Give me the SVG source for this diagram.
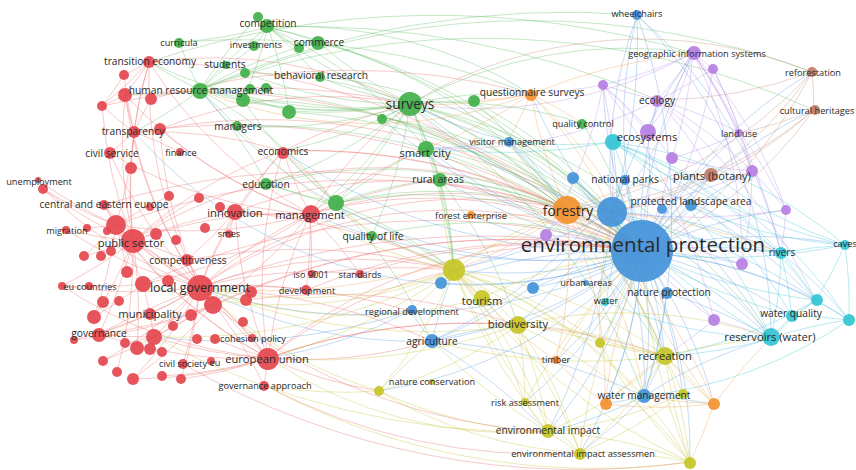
<svg xmlns="http://www.w3.org/2000/svg" width="856" height="470" viewBox="0 0 856 470">
<style>
.e{fill:none;stroke-width:1;stroke-opacity:.36}
.er{stroke:#ec6a6a}.eg{stroke:#5dbd62}.eb{stroke:#5b9ee0}.ey{stroke:#c4c43a}.ep{stroke:#b88ce8}.ec{stroke:#40c6d6}.eo{stroke:#f0a050}.ebr{stroke:#c08a78}
.R{fill:#e5474e}.G{fill:#41b04a}.B{fill:#4392d9}.Y{fill:#c5c626}.P{fill:#b57fe3}.C{fill:#33c4d4}.O{fill:#f3912f}.Br{fill:#c07b66}
circle{fill-opacity:.92}
text{font-family:"Open Sans","Liberation Sans",sans-serif;fill:#2a2a2a;text-anchor:middle;dominant-baseline:central}
.a{font-size:9.2px}.b{font-size:10.2px}.c{font-size:11.2px}.d{font-size:12.4px}.h{font-size:13.8px}.f{font-size:20.5px}
</style>
<rect width="856" height="470" fill="#fff"/>
<g id="connectors" class="e">
<g class="er">
<path d="M200 287A450 450 0 0 1 149 62"/><path d="M200 287A450 450 0 0 1 133 132"/><path d="M200 287A450 450 0 0 1 110 153"/><path d="M200 287A450 450 0 0 1 104 205"/><path d="M200 287A450 450 0 0 1 116 225"/><path d="M200 287A450 450 0 0 1 133 241"/><path d="M200 287A450 450 0 0 1 66 230"/><path d="M200 287A450 450 0 0 1 62 286"/><path d="M200 287A450 450 0 0 1 99 334"/><path d="M200 287A450 450 0 0 1 154 337"/><path d="M200 287A450 450 0 0 1 183 364"/><path d="M200 287A450 450 0 0 1 268 358"/><path d="M200 287A450 450 0 0 1 264 385"/><path d="M200 287A450 450 0 0 1 310 214"/><path d="M200 287A450 450 0 0 1 235 212"/><path d="M200 287A450 450 0 0 1 283 151"/><path d="M200 287A450 450 0 0 1 306 290"/><path d="M200 287A450 450 0 0 1 360 274"/><path d="M200 287A450 450 0 0 1 43 189"/><path d="M200 287A450 450 0 0 1 74 340"/><path d="M200 287A450 450 0 0 1 133 379"/><path d="M200 287A450 450 0 0 1 103 361"/><path d="M200 287A450 450 0 0 1 181 379"/><path d="M200 287A450 450 0 0 1 160 129"/><path d="M200 287A450 450 0 0 1 125 95"/>
<path d="M133 241A450 450 0 0 1 149 62"/><path d="M133 241A450 450 0 0 1 125 95"/><path d="M133 241A450 450 0 0 1 102 106"/><path d="M133 241A450 450 0 0 1 131 168"/><path d="M133 241A450 450 0 0 1 43 189"/><path d="M133 241A450 450 0 0 1 66 230"/><path d="M133 241A450 450 0 0 1 84 256"/><path d="M133 241A450 450 0 0 1 62 286"/><path d="M133 241A450 450 0 0 1 94 317"/><path d="M133 241A450 450 0 0 1 99 334"/><path d="M133 241A450 450 0 0 1 137 348"/><path d="M133 241A450 450 0 0 1 117 372"/><path d="M133 241A450 450 0 0 1 268 358"/><path d="M133 241A450 450 0 0 1 235 212"/><path d="M133 241A450 450 0 0 1 310 214"/><path d="M133 241A450 450 0 0 1 187 260"/><path d="M133 241A450 450 0 0 1 283 151"/><path d="M133 241A450 450 0 0 1 199 198"/>
<path d="M268 358A450 450 0 0 1 99 334"/><path d="M268 358A450 450 0 0 1 154 337"/><path d="M268 358A450 450 0 0 1 133 379"/><path d="M268 358A450 450 0 0 1 162 376"/><path d="M268 358A450 450 0 0 1 181 379"/><path d="M268 358A450 450 0 0 1 116 225"/><path d="M268 358A450 450 0 0 1 187 260"/><path d="M268 358A450 450 0 0 1 235 212"/><path d="M268 358A450 450 0 0 1 310 214"/><path d="M268 358A450 450 0 0 1 283 151"/><path d="M268 358A450 450 0 0 1 264 385"/><path d="M268 358A450 450 0 0 1 215 339"/><path d="M268 358A450 450 0 0 1 62 286"/><path d="M268 358A450 450 0 0 1 104 205"/>
<path d="M310 214A450 450 0 0 1 283 151"/><path d="M310 214A450 450 0 0 1 235 212"/><path d="M310 214A450 450 0 0 1 160 129"/><path d="M310 214A450 450 0 0 1 149 62"/><path d="M310 214A450 450 0 0 1 125 95"/><path d="M310 214A450 450 0 0 1 116 225"/><path d="M310 214A450 450 0 0 1 143 284"/><path d="M310 214A450 450 0 0 1 311 274"/><path d="M310 214A450 450 0 0 1 306 290"/><path d="M310 214A450 450 0 0 1 360 274"/><path d="M310 214A450 450 0 0 1 154 337"/><path d="M310 214A450 450 0 0 1 110 153"/>
<path d="M134 132A450 450 0 0 1 149 62"/><path d="M134 132A450 450 0 0 1 124 75"/><path d="M134 132A450 450 0 0 1 125 95"/><path d="M134 132A450 450 0 0 1 151 99"/><path d="M134 132A450 450 0 0 1 102 106"/><path d="M134 132A450 450 0 0 1 110 153"/><path d="M134 132A450 450 0 0 1 180 152"/><path d="M134 132A450 450 0 0 1 131 168"/><path d="M134 132A450 450 0 0 1 283 151"/><path d="M134 132A450 450 0 0 1 116 225"/>
<path d="M116 225A450 450 0 0 1 43 189"/><path d="M116 225A450 450 0 0 1 104 205"/><path d="M116 225A450 450 0 0 1 169 196"/><path d="M116 225A450 450 0 0 1 84 256"/><path d="M116 225A450 450 0 0 1 94 317"/><path d="M116 225A450 450 0 0 1 127 272"/><path d="M116 225A450 450 0 0 1 143 284"/><path d="M116 225A450 450 0 0 1 38 180"/><path d="M116 225A450 450 0 0 1 87 228"/>
<path d="M149 62A450 450 0 0 1 124 75"/><path d="M149 62A450 450 0 0 1 125 95"/><path d="M149 62A450 450 0 0 1 102 106"/><path d="M124 75A450 450 0 0 1 102 106"/><path d="M125 95A450 450 0 0 1 102 106"/><path d="M143 284A450 450 0 0 1 62 286"/><path d="M143 284A450 450 0 0 1 94 317"/><path d="M143 284A450 450 0 0 1 154 337"/><path d="M154 337A450 450 0 0 1 99 334"/><path d="M154 337A450 450 0 0 1 125 343"/><path d="M154 337A450 450 0 0 1 103 361"/><path d="M213 305A450 450 0 0 1 99 334"/><path d="M213 305A450 450 0 0 1 133 379"/><path d="M213 305A450 450 0 0 1 74 340"/><path d="M235 212A450 450 0 0 1 283 151"/><path d="M235 212A450 450 0 0 1 220 207"/><path d="M235 212A450 450 0 0 1 229 233"/><path d="M235 212A450 450 0 0 1 187 260"/>
<path d="M200 287A450 450 0 0 1 642 252"/><path d="M200 287A450 450 0 0 1 454 270"/><path d="M200 287A450 450 0 0 1 567 210"/><path d="M133 241A450 450 0 0 1 642 252"/><path d="M268 358A450 450 0 0 1 642 252"/><path d="M268 358A450 450 0 0 1 454 270"/><path d="M432 341A450 450 0 0 1 268 358"/><path d="M310 214A450 450 0 0 1 642 252"/><path d="M310 214A450 450 0 0 1 567 210"/><path d="M310 214A450 450 0 0 1 410 104"/><path d="M235 212A450 450 0 0 1 642 252"/><path d="M160 129A450 450 0 0 1 410 104"/><path d="M149 62A450 450 0 0 1 410 104"/><path d="M379 391A450 450 0 0 1 268 358"/><path d="M264 385A600 600 0 0 0 580 453"/><path d="M213 305A600 600 0 0 0 548 432"/><path d="M183 364A800 800 0 0 0 690 462"/>
<path d="M125 95A700 700 0 0 1 642 252"/><path d="M143 284A700 700 0 0 1 642 252"/><path d="M154 337A700 700 0 0 1 642 252"/><path d="M116 225A700 700 0 0 1 567 210"/><path d="M104 205A700 700 0 0 1 642 252"/><path d="M283 151A600 600 0 0 1 642 252"/><path d="M283 151A600 600 0 0 1 567 210"/><path d="M283 151A600 600 0 0 1 410 104"/><path d="M306 290A600 600 0 0 1 642 252"/><path d="M360 274A600 600 0 0 1 642 252"/><path d="M311 274A600 600 0 0 1 454 270"/><path d="M213 305A700 700 0 0 1 642 252"/><path d="M246 300A600 600 0 0 1 518 325"/><path d="M251 292A600 600 0 0 1 432 341"/><path d="M187 260A600 600 0 0 1 454 270"/><path d="M134 132A700 700 0 0 1 567 210"/><path d="M149 62A700 700 0 0 1 567 210"/><path d="M200 287A600 600 0 0 1 410 311"/><path d="M268 358A600 600 0 0 1 518 325"/><path d="M268 358A600 600 0 0 1 665 356"/><path d="M99 334A800 800 0 0 1 642 252"/><path d="M235 212A600 600 0 0 1 454 270"/><path d="M310 214A600 600 0 0 1 440 179"/><path d="M310 214A600 600 0 0 1 426 148"/><path d="M283 151A500 500 0 0 1 336 203"/><path d="M160 129A600 600 0 0 1 642 252"/><path d="M151 99A700 700 0 0 1 531 94"/><path d="M102 106A700 700 0 0 1 410 104"/>
</g>
<g class="eg">
<path d="M410 104A450 450 0 0 1 268 27"/><path d="M410 104A450 450 0 0 1 318 42"/><path d="M410 104A450 450 0 0 1 319 77"/><path d="M410 104A450 450 0 0 1 245 73"/><path d="M410 104A450 450 0 0 1 200 90"/><path d="M410 104A450 450 0 0 1 243 100"/><path d="M410 104A450 450 0 0 1 289 111"/><path d="M410 104A450 450 0 0 1 236 126"/><path d="M410 104A450 450 0 0 1 382 118"/><path d="M410 104A450 450 0 0 1 473 101"/><path d="M410 104A450 450 0 0 1 426 148"/><path d="M410 104A450 450 0 0 1 440 179"/><path d="M410 104A450 450 0 0 1 372 236"/><path d="M410 104A450 450 0 0 1 336 203"/><path d="M410 104A450 450 0 0 1 267 184"/><path d="M410 104A450 450 0 0 1 531 94"/><path d="M410 104A450 450 0 0 1 567 210"/><path d="M410 104A450 450 0 0 1 642 252"/><path d="M410 104A450 450 0 0 1 454 270"/><path d="M410 104A450 450 0 0 1 665 356"/><path d="M410 104A450 450 0 0 1 582 123"/><path d="M410 104A450 450 0 0 1 283 151"/><path d="M410 104A450 450 0 0 1 310 214"/><path d="M410 104A450 450 0 0 1 149 62"/><path d="M410 104A450 450 0 0 1 693 53"/><path d="M410 104A450 450 0 0 1 612 212"/>
<path d="M200 90A450 450 0 0 1 179 42"/><path d="M200 90A450 450 0 0 1 258 17"/><path d="M200 90A450 450 0 0 1 268 27"/><path d="M200 90A450 450 0 0 1 254 47"/><path d="M200 90A450 450 0 0 1 245 73"/><path d="M200 90A450 450 0 0 1 250 89"/><path d="M200 90A450 450 0 0 1 243 100"/><path d="M200 90A450 450 0 0 1 236 126"/><path d="M200 90A450 450 0 0 1 289 111"/><path d="M200 90A450 450 0 0 1 134 132"/><path d="M200 90A450 450 0 0 1 149 62"/><path d="M200 90A450 450 0 0 1 318 42"/><path d="M200 90A450 450 0 0 1 336 203"/><path d="M200 90A450 450 0 0 1 267 184"/><path d="M200 90A450 450 0 0 1 125 95"/>
<path d="M336 203A450 450 0 0 1 426 148"/><path d="M336 203A450 450 0 0 1 440 179"/><path d="M336 203A450 450 0 0 1 372 236"/><path d="M336 203A450 450 0 0 1 267 184"/><path d="M336 203A450 450 0 0 1 642 252"/><path d="M336 203A450 450 0 0 1 283 151"/><path d="M336 203A450 450 0 0 1 243 100"/><path d="M336 203A450 450 0 0 1 567 210"/><path d="M336 203A450 450 0 0 1 454 270"/>
<path d="M268 27A450 450 0 0 1 318 42"/><path d="M268 27A450 450 0 0 1 298 48"/><path d="M268 27A450 450 0 0 1 254 47"/><path d="M268 27A450 450 0 0 1 319 77"/><path d="M268 27A450 450 0 0 1 179 42"/><path d="M268 27A450 450 0 0 1 426 148"/><path d="M268 27A450 450 0 0 1 289 111"/><path d="M268 27A450 450 0 0 1 243 100"/>
<path d="M426 148A450 450 0 0 1 642 252"/><path d="M426 148A450 450 0 0 1 440 179"/><path d="M440 179A450 450 0 0 1 642 252"/><path d="M440 179A450 450 0 0 1 567 210"/><path d="M440 179A450 450 0 0 1 454 270"/><path d="M473 101A450 450 0 0 1 642 252"/><path d="M382 118A450 450 0 0 1 642 252"/><path d="M319 77A450 450 0 0 1 642 252"/><path d="M318 42A450 450 0 0 1 567 210"/><path d="M267 184A450 450 0 0 1 642 252"/><path d="M582 123A450 450 0 0 1 642 252"/><path d="M372 236A450 450 0 0 1 642 252"/><path d="M245 73A450 450 0 0 1 410 104"/><path d="M268 27A450 450 0 0 1 531 94"/><path d="M149 62A900 900 0 0 1 693 53"/><path d="M200 90A900 900 0 0 1 637 15"/><path d="M268 27A900 900 0 0 1 658 100"/>
<path d="M243 100A600 600 0 0 1 642 252"/><path d="M289 112A600 600 0 0 1 642 252"/><path d="M236 126A600 600 0 0 1 567 210"/><path d="M266 184A600 600 0 0 1 454 270"/><path d="M200 90A600 600 0 0 1 567 210"/><path d="M268 27A700 700 0 0 1 642 252"/><path d="M318 42A600 600 0 0 1 642 252"/><path d="M426 148A500 500 0 0 1 454 270"/><path d="M426 148A500 500 0 0 1 665 356"/><path d="M440 179A500 500 0 0 1 518 325"/><path d="M410 104A600 600 0 0 1 771 338"/><path d="M410 104A600 600 0 0 1 644 396"/><path d="M372 236A500 500 0 0 1 454 270"/><path d="M336 203A500 500 0 0 1 432 341"/><path d="M382 119A500 500 0 0 1 567 210"/><path d="M474 101A500 500 0 0 1 567 210"/><path d="M179 42A800 800 0 0 1 531 94"/><path d="M245 73A800 800 0 0 1 812 72"/><path d="M200 90A800 800 0 0 1 814 110"/>
</g>
<g class="eb">
<path d="M642 252A450 450 0 0 1 637 15"/><path d="M642 252A450 450 0 0 1 508 141"/><path d="M642 252A450 450 0 0 1 410 311"/><path d="M642 252A450 450 0 0 1 432 341"/><path d="M642 252A450 450 0 0 1 644 396"/><path d="M642 252A450 450 0 0 1 667 293"/><path d="M642 252A450 450 0 0 1 625 180"/><path d="M642 252A450 450 0 0 1 573 178"/><path d="M642 252A450 450 0 0 1 533 288"/><path d="M642 252A450 450 0 0 1 441 283"/><path d="M642 252A450 450 0 0 1 781 253"/><path d="M642 252A450 450 0 0 1 845 245"/><path d="M642 252A450 450 0 0 1 816 300"/><path d="M642 252A450 450 0 0 1 771 338"/><path d="M642 252A450 450 0 0 1 658 100"/><path d="M642 252A450 450 0 0 1 693 53"/><path d="M642 252A450 450 0 0 1 740 133"/><path d="M642 252A450 450 0 0 1 812 72"/><path d="M642 252A450 450 0 0 1 814 110"/><path d="M642 252A450 450 0 0 1 531 94"/><path d="M642 252A450 450 0 0 1 454 270"/><path d="M642 252A450 450 0 0 1 518 325"/><path d="M642 252A450 450 0 0 1 665 356"/><path d="M642 252A450 450 0 0 1 548 432"/><path d="M642 252A450 450 0 0 1 580 453"/><path d="M642 252A450 450 0 0 1 379 391"/><path d="M642 252A450 450 0 0 1 525 402"/><path d="M642 252A450 450 0 0 1 556 361"/><path d="M642 252A450 450 0 0 1 690 462"/><path d="M642 252A450 450 0 0 1 714 404"/><path d="M642 252A450 450 0 0 1 605 404"/><path d="M642 252A450 450 0 0 1 662 209"/><path d="M642 252A450 450 0 0 1 691 206"/><path d="M642 252A450 450 0 0 1 712 174"/><path d="M642 252A450 450 0 0 1 603 85"/><path d="M642 252A450 450 0 0 1 752 171"/><path d="M642 252A450 450 0 0 1 786 210"/><path d="M642 252A450 450 0 0 1 742 264"/><path d="M642 252A450 450 0 0 1 714 320"/><path d="M642 252A450 450 0 0 1 849 320"/><path d="M642 252A450 450 0 0 1 792 316"/><path d="M642 252A450 450 0 0 1 683 394"/><path d="M642 252A450 450 0 0 1 600 343"/><path d="M642 252A450 450 0 0 1 606 302"/><path d="M642 252A450 450 0 0 1 471 215"/><path d="M642 252A450 450 0 0 1 200 90"/><path d="M642 252A450 450 0 0 1 134 132"/>
<path d="M612 212A450 450 0 0 1 637 15"/><path d="M612 212A450 450 0 0 1 508 141"/><path d="M612 212A450 450 0 0 1 573 178"/><path d="M612 212A450 450 0 0 1 625 180"/><path d="M612 212A450 450 0 0 1 410 104"/><path d="M612 212A450 450 0 0 1 432 341"/><path d="M612 212A450 450 0 0 1 644 396"/><path d="M612 212A450 450 0 0 1 781 253"/><path d="M612 212A450 450 0 0 1 771 338"/>
<path d="M432 341A450 450 0 0 1 454 270"/><path d="M432 341A450 450 0 0 1 518 325"/><path d="M432 341A450 450 0 0 1 410 311"/><path d="M432 341A450 450 0 0 1 200 287"/><path d="M410 311A450 450 0 0 1 200 287"/><path d="M410 311A450 450 0 0 1 268 358"/><path d="M644 396A450 450 0 0 1 665 356"/><path d="M644 396A450 450 0 0 1 548 432"/><path d="M644 396A450 450 0 0 1 714 404"/><path d="M644 396A450 450 0 0 1 605 404"/><path d="M644 396A450 450 0 0 1 580 453"/><path d="M644 396A450 450 0 0 1 771 338"/><path d="M508 141A450 450 0 0 1 567 210"/><path d="M508 141A450 450 0 0 1 410 104"/><path d="M508 141A450 450 0 0 1 426 148"/><path d="M637 15A450 450 0 0 1 781 253"/><path d="M637 15A450 450 0 0 1 771 338"/>
<path d="M642 252A600 600 0 0 1 283 151"/><path d="M642 252A600 600 0 0 1 310 214"/><path d="M642 252A600 600 0 0 1 426 148"/><path d="M642 252A600 600 0 0 1 440 179"/><path d="M642 252A600 600 0 0 1 382 119"/><path d="M612 212A600 600 0 0 1 454 270"/><path d="M612 212A600 600 0 0 1 518 325"/><path d="M612 212A600 600 0 0 1 548 432"/><path d="M612 212A600 600 0 0 1 665 356"/><path d="M612 212A600 600 0 0 1 816 300"/><path d="M612 212A600 600 0 0 1 693 53"/><path d="M573 178A500 500 0 0 1 642 252"/><path d="M625 180A500 500 0 0 1 781 253"/><path d="M625 180A500 500 0 0 1 432 341"/><path d="M637 15A600 600 0 0 1 644 396"/><path d="M637 15A600 600 0 0 1 612 212"/><path d="M432 341A600 600 0 0 1 644 396"/><path d="M432 341A600 600 0 0 1 548 432"/><path d="M410 311A600 600 0 0 1 154 337"/><path d="M533 288A500 500 0 0 1 642 252"/><path d="M441 283A500 500 0 0 1 642 252"/><path d="M662 209A500 500 0 0 1 771 338"/><path d="M691 206A500 500 0 0 1 816 300"/><path d="M667 293A500 500 0 0 1 771 338"/><path d="M667 293A500 500 0 0 1 644 396"/>
</g>
<g class="ey">
<path d="M454 270A450 450 0 0 1 482 298"/><path d="M454 270A450 450 0 0 1 518 325"/><path d="M454 270A450 450 0 0 1 379 391"/><path d="M454 270A450 450 0 0 1 410 311"/><path d="M454 270A450 450 0 0 1 548 432"/><path d="M454 270A450 450 0 0 1 580 453"/><path d="M454 270A450 450 0 0 1 525 402"/><path d="M454 270A450 450 0 0 1 665 356"/><path d="M454 270A450 450 0 0 1 600 343"/><path d="M454 270A450 450 0 0 1 567 210"/><path d="M454 270A450 450 0 0 1 200 287"/><path d="M454 270A450 450 0 0 1 143 284"/><path d="M454 270A450 450 0 0 1 310 214"/><path d="M454 270A450 450 0 0 1 440 179"/><path d="M454 270A450 450 0 0 1 690 462"/><path d="M454 270A450 450 0 0 1 644 396"/>
<path d="M518 325A450 450 0 0 1 665 356"/><path d="M518 325A450 450 0 0 1 548 432"/><path d="M518 325A450 450 0 0 1 580 453"/><path d="M518 325A450 450 0 0 1 525 402"/><path d="M518 325A450 450 0 0 1 600 343"/><path d="M518 325A450 450 0 0 1 690 462"/><path d="M518 325A450 450 0 0 1 379 391"/><path d="M518 325A450 450 0 0 1 771 338"/>
<path d="M665 356A450 450 0 0 1 690 462"/><path d="M665 356A450 450 0 0 1 683 394"/><path d="M665 356A450 450 0 0 1 580 453"/><path d="M665 356A450 450 0 0 1 548 432"/><path d="M665 356A450 450 0 0 1 600 343"/><path d="M665 356A450 450 0 0 1 714 404"/><path d="M665 356A450 450 0 0 1 612 212"/>
<path d="M548 432A450 450 0 0 1 580 453"/><path d="M548 432A450 450 0 0 1 690 462"/><path d="M548 432A450 450 0 0 1 379 391"/><path d="M548 432A450 450 0 0 1 525 402"/><path d="M548 432A450 450 0 0 1 268 358"/><path d="M580 453A450 450 0 0 1 690 462"/><path d="M580 453A450 450 0 0 1 379 391"/><path d="M683 394A450 450 0 0 1 580 453"/><path d="M683 394A450 450 0 0 1 548 432"/><path d="M690 462A450 450 0 0 1 600 343"/><path d="M379 391A450 450 0 0 1 264 385"/><path d="M379 391A450 450 0 0 1 200 287"/><path d="M482 298A450 450 0 0 1 642 252"/><path d="M482 298A450 450 0 0 1 200 287"/><path d="M600 343A450 450 0 0 1 612 212"/><path d="M264 385A700 700 0 0 0 690 462"/><path d="M154 337A800 800 0 0 0 548 432"/>
<path d="M454 270A600 600 0 0 1 154 337"/><path d="M454 270A600 600 0 0 1 268 358"/><path d="M454 270A600 600 0 0 1 236 126"/><path d="M518 325A600 600 0 0 1 200 287"/><path d="M518 325A600 600 0 0 1 268 358"/><path d="M665 356A600 600 0 0 1 432 341"/><path d="M665 356A600 600 0 0 1 454 270"/><path d="M665 356A600 600 0 0 1 771 338"/><path d="M548 432A600 600 0 0 1 454 270"/><path d="M548 432A600 600 0 0 1 432 341"/><path d="M580 453A600 600 0 0 1 454 270"/><path d="M580 453A600 600 0 0 1 642 252"/><path d="M690 462A600 600 0 0 1 665 356"/><path d="M690 462A600 600 0 0 1 642 252"/><path d="M690 462A600 600 0 0 1 454 270"/><path d="M379 391A600 600 0 0 1 432 341"/><path d="M525 402A600 600 0 0 1 642 252"/><path d="M600 343A500 500 0 0 1 665 356"/>
</g>
<g class="ep">
<path d="M693 53A450 450 0 0 1 658 100"/><path d="M693 53A450 450 0 0 1 713 69"/><path d="M693 53A450 450 0 0 1 603 85"/><path d="M693 53A450 450 0 0 1 740 133"/><path d="M693 53A450 450 0 0 1 648 132"/><path d="M693 53A450 450 0 0 1 672 158"/><path d="M693 53A450 450 0 0 1 752 171"/><path d="M693 53A450 450 0 0 1 786 210"/><path d="M693 53A450 450 0 0 1 742 264"/><path d="M693 53A450 450 0 0 1 612 212"/>
<path d="M713 69A450 450 0 0 1 740 133"/><path d="M713 69A450 450 0 0 1 752 171"/><path d="M713 69A450 450 0 0 1 658 100"/><path d="M713 69A450 450 0 0 1 642 252"/><path d="M658 100A450 450 0 0 1 603 85"/><path d="M658 100A450 450 0 0 1 648 132"/><path d="M658 100A450 450 0 0 1 740 133"/><path d="M658 100A450 450 0 0 1 712 174"/><path d="M658 100A450 450 0 0 1 752 171"/><path d="M603 85A450 450 0 0 1 612 212"/><path d="M603 85A450 450 0 0 1 546 235"/><path d="M603 85A450 450 0 0 1 648 132"/><path d="M603 85A450 450 0 0 1 672 158"/><path d="M603 85A450 450 0 0 1 531 94"/>
<path d="M752 171A450 450 0 0 1 786 210"/><path d="M752 171A450 450 0 0 1 742 264"/><path d="M752 171A450 450 0 0 1 672 158"/><path d="M714 320A450 450 0 0 1 642 252"/><path d="M714 320A450 450 0 0 1 771 338"/><path d="M714 320A450 450 0 0 1 665 356"/><path d="M546 235A450 450 0 0 1 642 252"/><path d="M546 235A450 450 0 0 1 567 210"/><path d="M546 235A450 450 0 0 1 454 270"/><path d="M740 133A450 450 0 0 1 672 158"/><path d="M740 133A450 450 0 0 1 786 210"/><path d="M648 132A450 450 0 0 1 642 252"/><path d="M672 158A450 450 0 0 1 642 252"/><path d="M786 210A450 450 0 0 1 781 253"/><path d="M693 53A450 450 0 0 1 410 104"/><path d="M658 100A450 450 0 0 1 426 148"/>
<path d="M693 53A600 600 0 0 1 781 253"/><path d="M658 100A600 600 0 0 1 816 300"/><path d="M603 85A600 600 0 0 1 714 320"/><path d="M752 171A600 600 0 0 1 612 212"/><path d="M786 210A600 600 0 0 1 612 212"/><path d="M742 264A600 600 0 0 1 612 212"/>
</g>
<g class="ec">
<path d="M613 142A450 450 0 0 1 642 252"/><path d="M613 142A450 450 0 0 1 781 253"/><path d="M613 142A450 450 0 0 1 792 316"/><path d="M613 142A450 450 0 0 1 771 338"/><path d="M613 142A450 450 0 0 1 816 300"/><path d="M613 142A450 450 0 0 1 845 245"/><path d="M613 142A450 450 0 0 1 849 320"/><path d="M613 142A450 450 0 0 1 606 302"/><path d="M613 142A450 450 0 0 1 508 141"/>
<path d="M781 253A450 450 0 0 1 845 245"/><path d="M781 253A450 450 0 0 1 816 300"/><path d="M781 253A450 450 0 0 1 792 316"/><path d="M781 253A450 450 0 0 1 771 338"/><path d="M781 253A450 450 0 0 1 849 320"/><path d="M771 338A450 450 0 0 1 792 316"/><path d="M771 338A450 450 0 0 1 816 300"/><path d="M771 338A450 450 0 0 1 849 320"/><path d="M771 338A450 450 0 0 1 606 302"/><path d="M771 338A450 450 0 0 1 665 356"/><path d="M845 245A450 450 0 0 1 816 300"/><path d="M845 245A450 450 0 0 1 849 320"/><path d="M845 245A450 450 0 0 1 712 174"/><path d="M816 300A450 450 0 0 1 849 320"/><path d="M816 300A450 450 0 0 1 792 316"/><path d="M792 316A450 450 0 0 1 849 320"/><path d="M606 302A450 450 0 0 1 642 252"/><path d="M849 320A450 450 0 0 1 644 396"/><path d="M845 245A450 450 0 0 1 691 206"/><path d="M781 253A450 450 0 0 1 662 209"/><path d="M816 300A450 450 0 0 1 665 356"/>
<path d="M613 142A600 600 0 0 1 426 148"/><path d="M781 253A600 600 0 0 1 612 212"/><path d="M771 338A600 600 0 0 1 612 212"/><path d="M845 245A600 600 0 0 1 642 252"/><path d="M816 300A600 600 0 0 1 642 252"/><path d="M792 316A600 600 0 0 1 642 252"/><path d="M845 245A700 700 0 0 1 613 142"/>
</g>
<g class="eo">
<path d="M567 210A450 450 0 0 1 531 94"/><path d="M567 210A450 450 0 0 1 471 215"/><path d="M567 210A450 450 0 0 1 556 361"/><path d="M567 210A450 450 0 0 1 605 404"/><path d="M567 210A450 450 0 0 1 714 404"/><path d="M567 210A450 450 0 0 1 642 252"/><path d="M567 210A450 450 0 0 1 410 104"/><path d="M567 210A450 450 0 0 1 508 141"/><path d="M567 210A450 450 0 0 1 454 270"/><path d="M567 210A450 450 0 0 1 644 396"/><path d="M567 210A450 450 0 0 1 712 174"/><path d="M567 210A450 450 0 0 1 612 212"/><path d="M567 210A450 450 0 0 1 665 356"/><path d="M567 210A450 450 0 0 1 573 178"/>
<path d="M531 94A450 450 0 0 1 410 104"/><path d="M531 94A450 450 0 0 1 473 101"/><path d="M531 94A450 450 0 0 1 642 252"/><path d="M531 94A450 450 0 0 1 612 212"/><path d="M531 94A450 450 0 0 1 508 141"/><path d="M531 94A450 450 0 0 1 200 90"/><path d="M531 94A450 450 0 0 1 426 148"/><path d="M531 94A450 450 0 0 1 582 123"/>
<path d="M714 404A450 450 0 0 1 644 396"/><path d="M714 404A450 450 0 0 1 665 356"/><path d="M714 404A450 450 0 0 1 605 404"/><path d="M714 404A450 450 0 0 1 690 462"/><path d="M605 404A450 450 0 0 1 665 356"/><path d="M605 404A450 450 0 0 1 556 361"/><path d="M471 215A450 450 0 0 1 642 252"/><path d="M556 361A450 450 0 0 1 642 252"/>
<path d="M605 404A600 600 0 0 1 642 252"/><path d="M714 404A600 600 0 0 1 771 338"/><path d="M714 404A600 600 0 0 1 612 212"/><path d="M556 361A600 600 0 0 1 454 270"/><path d="M531 94A600 600 0 0 1 693 53"/><path d="M567 210A600 600 0 0 1 200 287"/><path d="M567 210A600 600 0 0 1 781 253"/>
</g>
<g class="ebr">
<path d="M812 72A450 450 0 0 1 814 110"/><path d="M812 72A450 450 0 0 1 712 174"/><path d="M812 72A450 450 0 0 1 642 252"/><path d="M812 72A450 450 0 0 1 658 100"/><path d="M812 72A450 450 0 0 1 567 210"/><path d="M814 110A450 450 0 0 1 712 174"/><path d="M814 110A450 450 0 0 1 642 252"/><path d="M814 110A450 450 0 0 1 740 133"/><path d="M814 110A450 450 0 0 1 612 212"/><path d="M712 174A450 450 0 0 1 642 252"/><path d="M712 174A450 450 0 0 1 567 210"/><path d="M712 174A450 450 0 0 1 612 212"/><path d="M410 104A450 450 0 0 1 812 72"/>
</g>
</g>
<g id="n-r01"><circle class="R" cx="124" cy="75" r="5"/></g>
<g id="n-r02"><circle class="R" cx="125" cy="95" r="7"/></g>
<g id="n-r03"><circle class="R" cx="151" cy="99" r="6"/></g>
<g id="n-r04"><circle class="R" cx="102" cy="106" r="5"/></g>
<g id="n-r05"><circle class="R" cx="160" cy="129" r="6"/></g>
<g id="n-r06"><circle class="R" cx="131" cy="168" r="6"/></g>
<g id="n-r07"><circle class="R" cx="38" cy="180" r="3"/></g>
<g id="n-r08"><circle class="R" cx="150" cy="207" r="4"/></g>
<g id="n-r09"><circle class="R" cx="116" cy="225" r="10"/></g>
<g id="n-r10"><circle class="R" cx="169" cy="196" r="5"/></g>
<g id="n-r11"><circle class="R" cx="199" cy="198" r="5"/></g>
<g id="n-r12"><circle class="R" cx="205" cy="228" r="5"/></g>
<g id="n-r13"><circle class="R" cx="87" cy="228" r="4"/></g>
<g id="n-r14"><circle class="R" cx="107" cy="231" r="4"/></g>
<g id="n-r15"><circle class="R" cx="156" cy="234" r="6"/></g>
<g id="n-r16"><circle class="R" cx="176" cy="240" r="5"/></g>
<g id="n-r17"><circle class="R" cx="84" cy="256" r="5"/></g>
<g id="n-r18"><circle class="R" cx="101" cy="256" r="5"/></g>
<g id="n-r19"><circle class="R" cx="111" cy="251" r="5"/></g>
<g id="n-r20"><circle class="R" cx="127" cy="272" r="6"/></g>
<g id="n-r21"><circle class="R" cx="89" cy="286" r="4"/></g>
<g id="n-r22"><circle class="R" cx="143" cy="284" r="8"/></g>
<g id="n-r23"><circle class="R" cx="168" cy="281" r="6"/></g>
<g id="n-r24"><circle class="R" cx="103" cy="302" r="6"/></g>
<g id="n-r25"><circle class="R" cx="119" cy="301" r="5"/></g>
<g id="n-r26"><circle class="R" cx="94" cy="317" r="7"/></g>
<g id="n-r27"><circle class="R" cx="173" cy="326" r="5"/></g>
<g id="n-r28"><circle class="R" cx="191" cy="315" r="6"/></g>
<g id="n-r29"><circle class="R" cx="213" cy="305" r="9"/></g>
<g id="n-r30"><circle class="R" cx="74" cy="340" r="4"/></g>
<g id="n-r31"><circle class="R" cx="154" cy="337" r="8"/></g>
<g id="n-r32"><circle class="R" cx="125" cy="343" r="5"/></g>
<g id="n-r33"><circle class="R" cx="137" cy="348" r="7"/></g>
<g id="n-r34"><circle class="R" cx="150" cy="349" r="6"/></g>
<g id="n-r35"><circle class="R" cx="162" cy="352" r="5"/></g>
<g id="n-r36"><circle class="R" cx="197" cy="339" r="5"/></g>
<g id="n-r37"><circle class="R" cx="103" cy="361" r="5"/></g>
<g id="n-r38"><circle class="R" cx="117" cy="372" r="5"/></g>
<g id="n-r39"><circle class="R" cx="133" cy="379" r="6"/></g>
<g id="n-r40"><circle class="R" cx="162" cy="376" r="5"/></g>
<g id="n-r41"><circle class="R" cx="181" cy="379" r="5"/></g>
<g id="n-r42"><circle class="R" cx="215" cy="339" r="5"/></g>
<g id="n-r43"><circle class="R" cx="251" cy="292" r="6"/></g>
<g id="n-r44"><circle class="R" cx="246" cy="300" r="6"/></g>
<g id="n-r45"><circle class="R" cx="243" cy="322" r="5"/></g>
<g id="n-r46"><circle class="R" cx="220" cy="207" r="5"/></g>
<g id="n-g01"><circle class="G" cx="258" cy="17" r="5"/></g>
<g id="n-g02"><circle class="G" cx="299" cy="48" r="5"/></g>
<g id="n-g03"><circle class="G" cx="245" cy="73" r="5"/></g>
<g id="n-g04"><circle class="G" cx="250" cy="89" r="5"/></g>
<g id="n-g05"><circle class="G" cx="266" cy="88" r="5"/></g>
<g id="n-g06"><circle class="G" cx="243" cy="100" r="7"/></g>
<g id="n-g07"><circle class="G" cx="289" cy="112" r="7"/></g>
<g id="n-g08"><circle class="G" cx="382" cy="119" r="5"/></g>
<g id="n-g09"><circle class="G" cx="474" cy="101" r="6"/></g>
<g id="n-g10"><circle class="G" cx="336" cy="203" r="8"/></g>
<g id="n-b01"><circle class="B" cx="612" cy="212" r="15"/></g>
<g id="n-b02"><circle class="B" cx="573" cy="178" r="6"/></g>
<g id="n-b03"><circle class="B" cx="662" cy="209" r="5"/></g>
<g id="n-b04"><circle class="B" cx="533" cy="288" r="6"/></g>
<g id="n-b05"><circle class="B" cx="441" cy="283" r="6"/></g>
<g id="n-y01"><circle class="Y" cx="454" cy="270" r="11"/></g>
<g id="n-y02"><circle class="Y" cx="600" cy="343" r="5"/></g>
<g id="n-y03"><circle class="Y" cx="683" cy="394" r="5"/></g>
<g id="n-y04"><circle class="Y" cx="690" cy="463" r="6"/></g>
<g id="n-y05"><circle class="Y" cx="379" cy="391" r="5"/></g>
<g id="n-p01"><circle class="P" cx="603" cy="85" r="5"/></g>
<g id="n-p02"><circle class="P" cx="713" cy="69" r="5"/></g>
<g id="n-p03"><circle class="P" cx="672" cy="158" r="6"/></g>
<g id="n-p04"><circle class="P" cx="752" cy="171" r="6"/></g>
<g id="n-p05"><circle class="P" cx="786" cy="210" r="5"/></g>
<g id="n-p06"><circle class="P" cx="742" cy="264" r="6"/></g>
<g id="n-p07"><circle class="P" cx="714" cy="320" r="6"/></g>
<g id="n-p08"><circle class="P" cx="546" cy="235" r="6"/></g>
<g id="n-c01"><circle class="C" cx="613" cy="142" r="8"/></g>
<g id="n-c02"><circle class="C" cx="817" cy="300" r="6"/></g>
<g id="n-c03"><circle class="C" cx="849" cy="320" r="6"/></g>
<g id="n-o01"><circle class="O" cx="606" cy="404" r="6"/></g>
<g id="n-o02"><circle class="O" cx="714" cy="404" r="6"/></g>
<g id="n-environmental-protection"><circle class="B" cx="642" cy="251" r="31"/><text class="f" x="643" y="244">environmental protection</text></g>
<g id="n-transition-economy"><circle class="R" cx="149" cy="62" r="6"/><text class="b" x="150" y="61">transition economy</text></g>
<g id="n-transparency"><circle class="R" cx="134" cy="132" r="6"/><text class="b" x="133" y="131">transparency</text></g>
<g id="n-civil-service"><circle class="R" cx="110" cy="153" r="6"/><text class="b" x="112" y="153">civil service</text></g>
<g id="n-finance"><circle class="R" cx="180" cy="152" r="4"/><text class="a" x="181" y="152">finance</text></g>
<g id="n-unemployment"><circle class="R" cx="43" cy="189" r="5"/><text class="a" x="39" y="181">unemployment</text></g>
<g id="n-central-and-eastern-europe"><circle class="R" cx="104" cy="205" r="5"/><text class="b" x="104" y="204">central and eastern europe</text></g>
<g id="n-migration"><circle class="R" cx="66" cy="230" r="4"/><text class="a" x="67" y="230">migration</text></g>
<g id="n-public-sector"><circle class="R" cx="133" cy="241" r="12"/><text class="c" x="131" y="242">public sector</text></g>
<g id="n-competitiveness"><circle class="R" cx="187" cy="260" r="6"/><text class="b" x="188" y="260">competitiveness</text></g>
<g id="n-eu-countries"><circle class="R" cx="62" cy="286" r="4"/><text class="a" x="90" y="286">eu countries</text></g>
<g id="n-local-government"><circle class="R" cx="200" cy="288" r="13"/><text class="d" x="200" y="287">local government</text></g>
<g id="n-municipality"><circle class="R" cx="150" cy="314" r="6"/><text class="c" x="150" y="313">municipality</text></g>
<g id="n-governance"><circle class="R" cx="99" cy="335" r="7"/><text class="b" x="99" y="333">governance</text></g>
<g id="n-civil-society"><circle class="R" cx="183" cy="364" r="5"/><text class="a" x="183" y="363">civil society</text></g>
<g id="n-eu"><circle class="R" cx="211" cy="361" r="4"/><text class="a" x="215" y="362">eu</text></g>
<g id="n-cohesion-policy"><circle class="R" cx="252" cy="338" r="4"/><text class="a" x="253" y="338">cohesion policy</text></g>
<g id="n-european-union"><circle class="R" cx="268" cy="359" r="11"/><text class="c" x="267" y="358">european union</text></g>
<g id="n-governance-approach"><circle class="R" cx="264" cy="386" r="5"/><text class="a" x="265" y="385">governance approach</text></g>
<g id="n-innovation"><circle class="R" cx="235" cy="212" r="8"/><text class="c" x="235" y="212">innovation</text></g>
<g id="n-smes"><circle class="R" cx="229" cy="234" r="4"/><text class="a" x="229" y="233">smes</text></g>
<g id="n-management"><circle class="R" cx="311" cy="214" r="9"/><text class="c" x="310" y="214">management</text></g>
<g id="n-economics"><circle class="R" cx="283" cy="153" r="6"/><text class="b" x="283" y="151">economics</text></g>
<g id="n-iso-9001"><circle class="R" cx="312" cy="274" r="4"/><text class="a" x="311" y="274">iso 9001</text></g>
<g id="n-standards"><circle class="R" cx="360" cy="274" r="4"/><text class="a" x="360" y="274">standards</text></g>
<g id="n-development"><circle class="R" cx="306" cy="290" r="5"/><text class="a" x="307" y="290">development</text></g>
<g id="n-curricula"><circle class="G" cx="179" cy="43" r="5"/><text class="a" x="179" y="42">curricula</text></g>
<g id="n-competition"><circle class="G" cx="267" cy="26" r="7"/><text class="b" x="268" y="23">competition</text></g>
<g id="n-investments"><circle class="G" cx="254" cy="46" r="5"/><text class="a" x="256" y="44">investments</text></g>
<g id="n-commerce"><circle class="G" cx="318" cy="43" r="7"/><text class="b" x="319" y="42">commerce</text></g>
<g id="n-students"><circle class="G" cx="226" cy="65" r="4"/><text class="b" x="225" y="64">students</text></g>
<g id="n-human-resource-management"><circle class="G" cx="200" cy="91" r="8"/><text class="b" x="201" y="90">human resource management</text></g>
<g id="n-behavioral-research"><circle class="G" cx="320" cy="77" r="5"/><text class="b" x="321" y="75">behavioral research</text></g>
<g id="n-managers"><circle class="G" cx="237" cy="126" r="5"/><text class="b" x="238" y="126">managers</text></g>
<g id="n-surveys"><circle class="G" cx="410" cy="104" r="12"/><text class="h" x="410" y="103">surveys</text></g>
<g id="n-smart-city"><circle class="G" cx="426" cy="149" r="8"/><text class="c" x="425" y="152">smart city</text></g>
<g id="n-rural-areas"><circle class="G" cx="440" cy="180" r="7"/><text class="b" x="438" y="179">rural areas</text></g>
<g id="n-education"><circle class="G" cx="266" cy="184" r="6"/><text class="b" x="266" y="184">education</text></g>
<g id="n-quality-of-life"><circle class="G" cx="372" cy="236" r="5"/><text class="b" x="373" y="236">quality of life</text></g>
<g id="n-quality-control"><circle class="G" cx="582" cy="124" r="5"/><text class="a" x="583" y="123">quality control</text></g>
<g id="n-questionnaire-surveys"><circle class="O" cx="531" cy="95" r="6"/><text class="b" x="532" y="92">questionnaire surveys</text></g>
<g id="n-forestry"><circle class="O" cx="567" cy="210" r="14"/><text class="h" x="568" y="210">forestry</text></g>
<g id="n-forest-enterprise"><circle class="O" cx="471" cy="215" r="4"/><text class="a" x="471" y="215">forest enterprise</text></g>
<g id="n-timber"><circle class="O" cx="556" cy="360" r="4"/><text class="a" x="556" y="359">timber</text></g>
<g id="n-visitor-management"><circle class="B" cx="509" cy="142" r="5"/><text class="a" x="512" y="141">visitor management</text></g>
<g id="n-wheelchairs"><circle class="B" cx="637" cy="15" r="5"/><text class="a" x="637" y="13">wheelchairs</text></g>
<g id="n-national-parks"><circle class="B" cx="625" cy="180" r="5"/><text class="b" x="625" y="179">national parks</text></g>
<g id="n-protected-landscape-area"><circle class="B" cx="691" cy="205" r="6"/><text class="b" x="691" y="201">protected landscape area</text></g>
<g id="n-urban-areas"><circle class="B" cx="586" cy="283" r="3"/><text class="a" x="586" y="282">urban areas</text></g>
<g id="n-nature-protection"><circle class="B" cx="667" cy="293" r="6"/><text class="b" x="669" y="292">nature protection</text></g>
<g id="n-regional-development"><circle class="B" cx="412" cy="310" r="5"/><text class="a" x="412" y="311">regional development</text></g>
<g id="n-agriculture"><circle class="B" cx="432" cy="341" r="7"/><text class="b" x="432" y="341">agriculture</text></g>
<g id="n-water-management"><circle class="B" cx="644" cy="396" r="7"/><text class="b" x="644" y="395">water management</text></g>
<g id="n-tourism"><circle class="Y" cx="482" cy="298" r="8"/><text class="c" x="482" y="300">tourism</text></g>
<g id="n-biodiversity"><circle class="Y" cx="518" cy="325" r="9"/><text class="c" x="518" y="323">biodiversity</text></g>
<g id="n-recreation"><circle class="Y" cx="665" cy="356" r="9"/><text class="c" x="665" y="355">recreation</text></g>
<g id="n-nature-conservation"><circle class="Y" cx="432" cy="382" r="3"/><text class="a" x="432" y="381">nature conservation</text></g>
<g id="n-risk-assessment"><circle class="Y" cx="525" cy="402" r="4"/><text class="a" x="525" y="402">risk assessment</text></g>
<g id="n-environmental-impact"><circle class="Y" cx="548" cy="431" r="7"/><text class="b" x="548" y="430">environmental impact</text></g>
<g id="n-environmental-impact-assessmen"><circle class="Y" cx="580" cy="454" r="6"/><text class="a" x="583" y="453">environmental impact assessmen</text></g>
<g id="n-geographic-information-systems"><circle class="P" cx="694" cy="53" r="7"/><text class="a" x="697" y="53">geographic information systems</text></g>
<g id="n-ecology"><circle class="P" cx="657" cy="101" r="6"/><text class="b" x="657" y="100">ecology</text></g>
<g id="n-ecosystems"><circle class="P" cx="648" cy="132" r="8"/><text class="c" x="647" y="136">ecosystems</text></g>
<g id="n-land-use"><circle class="P" cx="739" cy="133" r="4"/><text class="a" x="739" y="133">land use</text></g>
<g id="n-rivers"><circle class="C" cx="781" cy="253" r="6"/><text class="b" x="782" y="252">rivers</text></g>
<g id="n-caves"><circle class="C" cx="845" cy="245" r="5"/><text class="a" x="845" y="243">caves</text></g>
<g id="n-water-quality"><circle class="C" cx="792" cy="316" r="6"/><text class="b" x="791" y="313">water quality</text></g>
<g id="n-reservoirs-water"><circle class="C" cx="771" cy="337" r="9"/><text class="c" x="770" y="336">reservoirs (water)</text></g>
<g id="n-water"><circle class="C" cx="605" cy="302" r="4"/><text class="a" x="606" y="300">water</text></g>
<g id="n-reforestation"><circle class="Br" cx="812" cy="72" r="5"/><text class="a" x="813" y="72">reforestation</text></g>
<g id="n-cultural-heritages"><circle class="Br" cx="815" cy="110" r="5"/><text class="a" x="817" y="110">cultural heritages</text></g>
<g id="n-plants-botany"><circle class="Br" cx="711" cy="175" r="7"/><text class="c" x="712" y="175">plants (botany)</text></g>
</svg>
